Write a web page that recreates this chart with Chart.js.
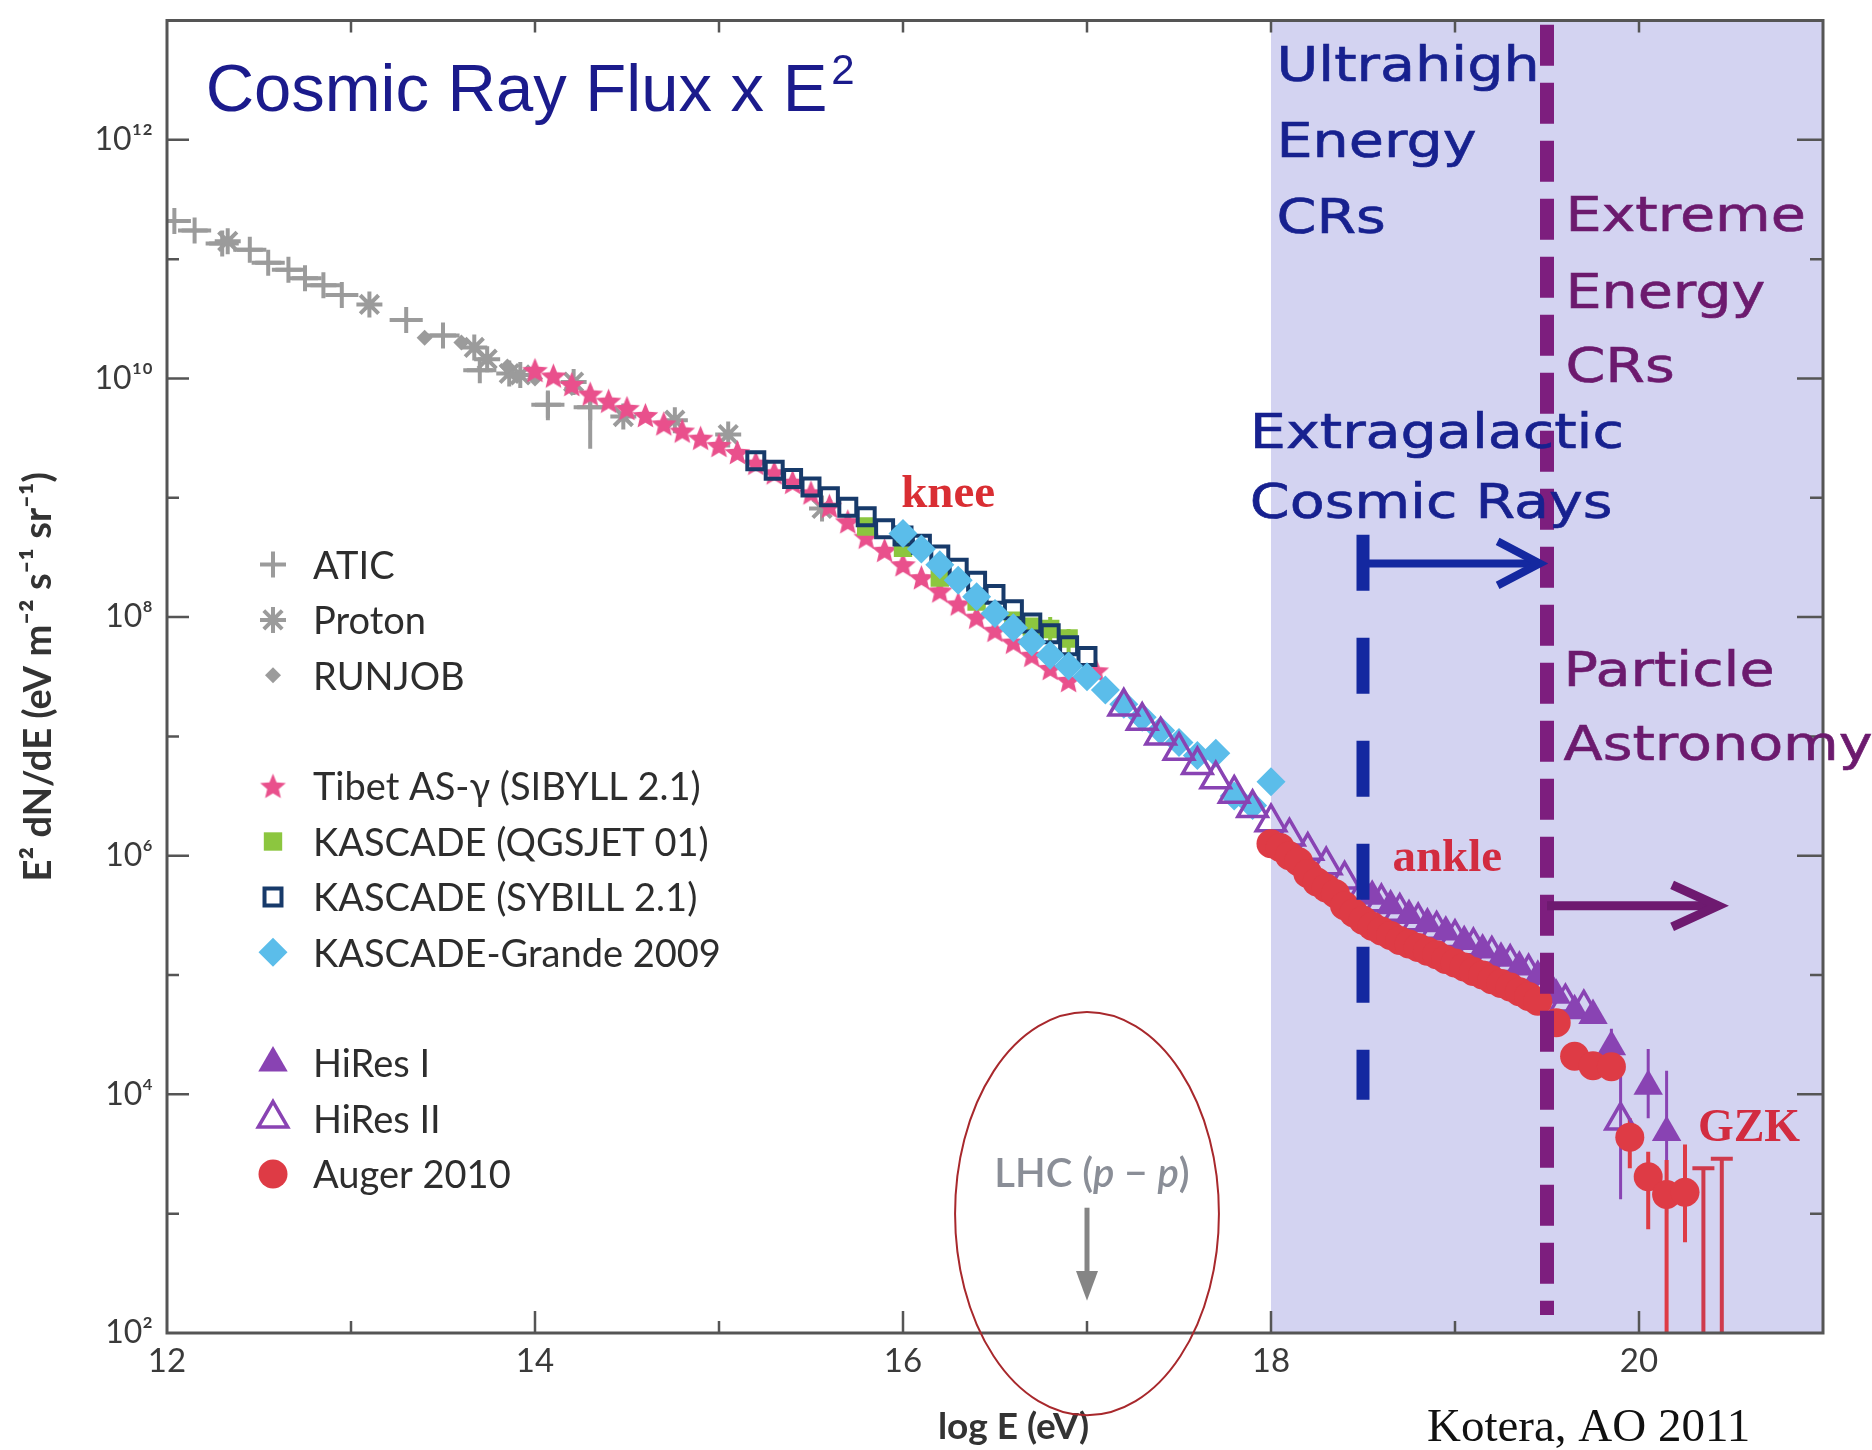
<!DOCTYPE html>
<html>
<head>
<meta charset="utf-8">
<title>Cosmic Ray Flux x E²</title>
<script src="https://cdn.jsdelivr.net/npm/chart.js@4.4.1/dist/chart.umd.min.js"></script>
<style>
  html, body { margin: 0; padding: 0; background: #ffffff; }
  canvas { display: block; }
</style>
</head>
<body>
<canvas id="cr" width="1872" height="1450" style="width:1872px;height:1450px"></canvas>
<script>
// Energies are log10(E / eV); fluxes are E^2 dN/dE in eV m^-2 s^-1 sr^-1.

const aticE      = [12.04, 12.15, 12.30, 12.45, 12.55, 12.66, 12.75, 12.85, 12.95, 13.30, 13.50, 13.70, 14.07, 14.30];
const aticFlux   = [2.09e11, 1.74e11, 1.35e11, 1.20e11, 9.33e10, 8.13e10, 6.92e10, 6.03e10, 5.01e10, 3.09e10, 2.29e10, 1.17e10, 6.03e9, 5.75e9];
const aticFluxLo = [null, null, null, null, null, null, null, null, null, null, null, null, 4.47e9, 2.57e9];
const aticFluxHi = [null, null, null, null, null, null, null, null, null, null, null, null, 7.94e9, 8.51e9];
const aticHalfBin = 0.09;

const protonE    = [12.33, 13.10, 13.67, 13.74, 13.86, 13.92, 14.21, 14.48, 14.76, 15.05, 15.56];
const protonFlux = [1.41e11, 4.17e10, 1.82e10, 1.45e10, 1.10e10, 1.07e10, 9.33e9, 4.79e9, 4.47e9, 3.39e9, 8.13e8];

const runjobE    = [13.40, 13.60, 13.85, 14.00, 14.20];
const runjobFlux = [2.19e10, 2.00e10, 1.26e10, 1.00e10, 8.32e9];

const tibetE    = [14.0, 14.1, 14.2, 14.3, 14.4, 14.5, 14.6, 14.7, 14.8, 14.9, 15.0, 15.1, 15.2, 15.3, 15.4, 15.5,
                   15.6, 15.7, 15.8, 15.9, 16.0, 16.1, 16.2, 16.3, 16.4, 16.5, 16.6, 16.7, 16.8, 16.9, 17.05];
const tibetFlux = [1.17e10, 1.05e10, 8.91e9, 7.41e9, 6.46e9, 5.62e9, 4.90e9, 4.17e9, 3.63e9, 3.16e9, 2.75e9, 2.40e9,
                   1.95e9, 1.62e9, 1.35e9, 1.10e9, 8.51e8, 6.31e8, 4.68e8, 3.63e8, 2.75e8, 2.14e8, 1.66e8, 1.29e8,
                   1.00e8, 7.76e7, 6.17e7, 4.79e7, 3.72e7, 2.95e7, 3.55e7];

const qgsjetE      = [15.8, 16.0, 16.2, 16.4, 16.6, 16.7, 16.8, 16.9];
const qgsjetFlux   = [5.75e8, 3.80e8, 2.14e8, 1.35e8, 9.33e7, 8.32e7, 7.94e7, 6.61e7];
const qgsjetFluxLo = [null, null, null, null, null, 6.92e7, 3.55e7, 3.98e7];
const qgsjetFluxHi = [null, null, null, null, null, 9.55e7, 1.00e8, 7.94e7];

const sybillE    = [15.2, 15.3, 15.4, 15.5, 15.6, 15.7, 15.8, 15.9, 16.0, 16.1, 16.2, 16.3, 16.4, 16.5, 16.6, 16.7, 16.8, 16.9, 17.0];
const sybillFlux = [2.04e9, 1.70e9, 1.45e9, 1.23e9, 1.02e9, 8.32e8, 6.92e8, 5.50e8, 4.79e8, 4.07e8, 3.31e8, 2.57e8,
                    2.00e8, 1.55e8, 1.15e8, 8.91e7, 7.24e7, 5.75e7, 4.68e7];

const grandeE    = [16.0, 16.1, 16.2, 16.3, 16.4, 16.5, 16.6, 16.7, 16.8, 16.9, 17.0, 17.1, 17.2, 17.3, 17.4, 17.5,
                    17.6, 17.7, 17.8, 17.9, 18.0];
const grandeFlux = [5.01e8, 3.72e8, 2.75e8, 2.04e8, 1.48e8, 1.07e8, 8.13e7, 6.17e7, 4.79e7, 3.89e7, 3.16e7, 2.45e7,
                    1.86e7, 1.45e7, 1.12e7, 8.91e6, 6.92e6, 7.24e6, 3.16e6, 2.63e6, 4.17e6];

const hires1E      = [18.55, 18.65, 18.75, 18.85, 18.95, 19.05, 19.15, 19.25, 19.35, 19.45, 19.55, 19.65, 19.75, 19.85, 20.05, 20.15];
const hires1Flux   = [4.57e5, 3.80e5, 3.16e5, 2.69e5, 2.29e5, 1.91e5, 1.62e5, 1.38e5, 1.17e5, 9.77e4, 6.76e4, 5.01e4,
                      4.57e4, 2.51e4, 1.17e4, 4.79e3];
const hires1FluxLo = [null, null, null, null, null, null, null, null, null, null, null, null, null, 1.78e4, 6.31e3, 1.00e3];
const hires1FluxHi = [null, null, null, null, null, null, null, null, null, null, null, null, null, 3.55e4, 2.40e4, 1.58e4];

const hires2E      = [17.2, 17.3, 17.4, 17.5, 17.6, 17.7, 17.8, 17.9, 18.0, 18.1, 18.2, 18.3, 18.4, 18.5, 18.6, 18.7,
                      18.8, 18.9, 19.0, 19.1, 19.2, 19.3, 19.4, 19.5, 19.6, 19.7, 19.9];
const hires2Flux   = [1.78e7, 1.35e7, 1.02e7, 7.59e6, 5.75e6, 4.37e6, 3.31e6, 2.51e6, 1.91e6, 1.45e6, 1.10e6, 8.32e5,
                      6.31e5, 4.90e5, 4.07e5, 3.39e5, 2.82e5, 2.40e5, 2.04e5, 1.74e5, 1.48e5, 1.26e5, 1.05e5, 8.32e4,
                      5.89e4, 5.25e4, 6.03e3];
const hires2FluxLo = [null, null, null, null, null, null, null, null, null, null, null, null, null, null, null, null,
                      null, null, null, null, null, null, null, null, null, null, 1.32e3];
const hires2FluxHi = [null, null, null, null, null, null, null, null, null, null, null, null, null, null, null, null,
                      null, null, null, null, null, null, null, null, null, null, 1.55e4];

const augerE      = [18.00, 18.05, 18.10, 18.15, 18.20, 18.25, 18.30, 18.35, 18.40, 18.45, 18.50, 18.55, 18.60, 18.65,
                     18.70, 18.75, 18.80, 18.85, 18.90, 18.95, 19.00, 19.05, 19.10, 19.15, 19.20, 19.25, 19.30, 19.35,
                     19.40, 19.45, 19.55, 19.65, 19.75, 19.85, 19.95, 20.05, 20.15, 20.25];
const augerFlux   = [1.26e6, 1.17e6, 1.00e6, 8.91e5, 7.08e5, 6.03e5, 5.37e5, 4.79e5, 3.80e5, 3.31e5, 2.88e5, 2.57e5,
                     2.34e5, 2.14e5, 1.95e5, 1.82e5, 1.70e5, 1.58e5, 1.48e5, 1.35e5, 1.26e5, 1.17e5, 1.07e5, 1.00e5,
                     9.12e4, 8.51e4, 7.94e4, 7.24e4, 6.61e4, 6.03e4, 3.98e4, 2.09e4, 1.74e4, 1.70e4, 4.37e3, 2.04e3,
                     1.45e3, 1.51e3];
const augerFluxLo = [null, null, null, null, null, null, null, null, null, null, null, null, null, null, null, null,
                     null, null, null, null, null, null, null, null, null, null, null, null, null, null, null, null,
                     null, null, 2.40e3, 7.41e2, 1.00e2, 5.75e2];
const augerFluxHi = [null, null, null, null, null, null, null, null, null, null, null, null, null, null, null, null,
                     null, null, null, null, null, null, null, null, null, null, null, null, null, null, null, null,
                     null, null, 6.31e3, 3.31e3, 2.82e3, 3.80e3];

// Auger bins with only an upper limit (bar from the limit down to the axis)
const augerLimitE    = [20.35, 20.45];
const augerLimitFlux = [2.40e3, 2.88e3];

// Axis ticks
const xLabelTicks = [12, 14, 16, 18, 20];
const xAllTicks   = [13, 14, 15, 16, 17, 18, 19, 20];
const yLabelExp   = [2, 4, 6, 8, 10, 12];
const yAllExp     = [3, 4, 5, 6, 7, 8, 9, 10, 11, 12];

// Regions and markers drawn over the spectrum (log E, log flux)
const uheRegionStart   = 18;
const extragalacticE   = 18.5;
const extremeE         = 19.5;
const extragalacticLog = [8.69, 3.955];
const extremeLog       = [12.965, 2.15];
const extragalacticArrow = { from: 18.5, to: 19.46, log: 8.45 };
const extremeArrow       = { from: 19.5, to: 20.43, log: 5.58 };
const lhcE = 17;

// ---------------------------------------------------------------
const GRAY   = '#9b9b9b';
const TIBET  = '#e9508c';
const QGS    = '#8cc63f';
const SYB    = '#173a6a';
const GRANDE = '#5bbdea';
const HIRES  = '#8943b3';
const AUGER  = '#de3b45';
const AXIS   = '#555555';
const NAVY   = '#17218f';
const PLUM   = '#6c1a6e';

function points(xs, ys, lo, hi, halfBin) {
  return xs.map((x, i) => ({
    x: x, y: ys[i],
    yMin: lo ? lo[i] : null,
    yMax: hi ? hi[i] : null,
    xMin: halfBin ? x - halfBin : null,
    xMax: halfBin ? x + halfBin : null
  }));
}

function starImage(r, color) {
  const c = document.createElement('canvas');
  const s = Math.ceil(2 * r + 2);
  c.width = s; c.height = s;
  const g = c.getContext('2d');
  g.fillStyle = color;
  g.beginPath();
  for (let i = 0; i < 10; i++) {
    const rr = i % 2 ? r * 0.45 : r;
    const a = -Math.PI / 2 + i * Math.PI / 5;
    g.lineTo(s / 2 + rr * Math.cos(a), s / 2 + rr * Math.sin(a) + r * 0.08);
  }
  g.closePath();
  g.fill();
  return c;
}
const tibetStar = starImage(13.5, TIBET);

const datasets = [
  { label: 'ATIC', data: points(aticE, aticFlux, aticFluxLo, aticFluxHi, aticHalfBin),
    pointStyle: 'cross', pointRadius: 13, pointBorderWidth: 4,
    pointBorderColor: GRAY, pointBackgroundColor: GRAY, errColor: GRAY, errWidth: 4, order: 10 },
  { label: 'Proton', data: points(protonE, protonFlux),
    pointStyle: 'star', pointRadius: 13, pointBorderWidth: 4,
    pointBorderColor: GRAY, pointBackgroundColor: GRAY, order: 9 },
  { label: 'RUNJOB', data: points(runjobE, runjobFlux),
    pointStyle: 'rectRot', pointRadius: 8, pointBorderWidth: 0,
    pointBorderColor: GRAY, pointBackgroundColor: GRAY, order: 8 },
  { label: 'Tibet AS-γ (SIBYLL 2.1)', data: points(tibetE, tibetFlux),
    pointStyle: tibetStar, pointRadius: 13, pointBorderWidth: 0,
    pointBorderColor: TIBET, pointBackgroundColor: TIBET, order: 7 },
  { label: 'KASCADE (QGSJET 01)', data: points(qgsjetE, qgsjetFlux, qgsjetFluxLo, qgsjetFluxHi),
    pointStyle: 'rect', pointRadius: 13, pointBorderWidth: 0,
    pointBorderColor: QGS, pointBackgroundColor: QGS, errColor: QGS, errWidth: 4, order: 6 },
  { label: 'KASCADE (SYBILL 2.1)', data: points(sybillE, sybillFlux),
    pointStyle: 'rect', pointRadius: 12, pointBorderWidth: 4,
    pointBorderColor: SYB, pointBackgroundColor: 'rgba(255,255,255,0)', order: 5 },
  { label: 'KASCADE-Grande 2009', data: points(grandeE, grandeFlux),
    pointStyle: 'rectRot', pointRadius: 14.5, pointBorderWidth: 0,
    pointBorderColor: GRANDE, pointBackgroundColor: GRANDE, order: 4 },
  { label: 'HiRes II', data: points(hires2E, hires2Flux, hires2FluxLo, hires2FluxHi),
    pointStyle: 'triangle', pointRadius: 17, pointBorderWidth: 3.5,
    pointBorderColor: HIRES, pointBackgroundColor: 'rgba(255,255,255,0)', errColor: HIRES, errWidth: 3, order: 3 },
  { label: 'HiRes I', data: points(hires1E, hires1Flux, hires1FluxLo, hires1FluxHi),
    pointStyle: 'triangle', pointRadius: 17, pointBorderWidth: 0,
    pointBorderColor: HIRES, pointBackgroundColor: HIRES, errColor: HIRES, errWidth: 3, order: 2 },
  { label: 'Auger 2010', data: points(augerE, augerFlux, augerFluxLo, augerFluxHi),
    pointStyle: 'circle', pointRadius: 14.5, pointBorderWidth: 0,
    pointBorderColor: AUGER, pointBackgroundColor: AUGER, errColor: AUGER, errWidth: 4, order: 1 },
  { label: 'Auger 2010 upper limits',
    data: augerLimitE.map((x, i) => ({ x: x, y: augerLimitFlux[i], yMin: 1e2, yMax: augerLimitFlux[i] })),
    pointRadius: 0, pointBorderWidth: 0, errColor: '#cf3a4c', errWidth: 4, errCap: 11, order: 1 }
];

// legend rows: dataset label and row slot (gaps separate the three groups)
const legendRows = [
  ['ATIC', 0], ['Proton', 1], ['RUNJOB', 2],
  ['Tibet AS-γ (SIBYLL 2.1)', 4], ['KASCADE (QGSJET 01)', 5], ['KASCADE (SYBILL 2.1)', 6], ['KASCADE-Grande 2009', 7],
  ['HiRes I', 9], ['HiRes II', 10], ['Auger 2010', 11]
];

const SUP = { '0': '⁰', '1': '¹', '2': '²', '3': '³', '4': '⁴', '5': '⁵', '6': '⁶', '7': '⁷', '8': '⁸', '9': '⁹', '-': '⁻' };
const sup = s => String(s).split('').map(ch => SUP[ch] || ch).join('');

// ---------------------------------------------------------------
const errorBars = {
  id: 'errorBars',
  beforeDatasetsDraw(chart) {
    const { ctx, chartArea: a, scales: { x, y } } = chart;
    ctx.save();
    ctx.beginPath();
    ctx.rect(a.left, a.top, a.right - a.left, a.bottom - a.top);
    ctx.clip();
    // high-energy region shading
    const x0 = x.getPixelForValue(uheRegionStart);
    ctx.fillStyle = '#d3d3f1';
    ctx.fillRect(x0, a.top, a.right - x0, a.bottom - a.top);

    chart.data.datasets.forEach(ds => {
      if (!ds.errColor) return;
      ctx.strokeStyle = ds.errColor;
      ctx.lineWidth = ds.errWidth || 3;
      ctx.lineCap = 'butt';
      ds.data.forEach(p => {
        const px = x.getPixelForValue(p.x);
        const py = y.getPixelForValue(p.y);
        if (p.yMin != null || p.yMax != null) {
          const t = y.getPixelForValue(p.yMax != null ? p.yMax : p.y);
          const b = y.getPixelForValue(p.yMin != null ? p.yMin : p.y);
          ctx.beginPath(); ctx.moveTo(px, t); ctx.lineTo(px, b); ctx.stroke();
          if (ds.errCap) {
            ctx.beginPath(); ctx.moveTo(px - ds.errCap, t); ctx.lineTo(px + ds.errCap, t); ctx.stroke();
          }
        }
        if (p.xMin != null) {
          const l = x.getPixelForValue(p.xMin), r = x.getPixelForValue(p.xMax);
          ctx.beginPath(); ctx.moveTo(l, py); ctx.lineTo(r, py); ctx.stroke();
        }
      });
    });
    ctx.restore();
  }
};

function drawLegendPoint(ctx, ds, cx, cy) {
  ctx.save();
  ctx.fillStyle = ds.pointBackgroundColor;
  ctx.strokeStyle = ds.pointBorderColor;
  ctx.lineWidth = ds.pointBorderWidth;
  const opts = { pointStyle: ds.pointStyle, rotation: 0, radius: ds.pointRadius, borderWidth: ds.pointBorderWidth };
  Chart.helpers.drawPoint(ctx, opts, cx, cy);
  ctx.restore();
}

function arrowHead(ctx, tipX, tipY, back, half) {
  ctx.beginPath();
  ctx.moveTo(tipX - back, tipY - half);
  ctx.lineTo(tipX, tipY);
  ctx.lineTo(tipX - back, tipY + half);
  ctx.stroke();
}

// rounded hand-lettered captions: widened sans with a light outline
function caption(ctx, text, px, py) {
  ctx.save();
  ctx.translate(px, py);
  ctx.scale(1.19, 1);
  ctx.lineWidth = 0.6;
  ctx.strokeStyle = ctx.fillStyle;
  ctx.fillText(text, 0, 0);
  ctx.strokeText(text, 0, 0);
  ctx.restore();
}

const overlay = {
  id: 'overlay',
  afterDatasetsDraw(chart) {
    const { ctx, chartArea: a, scales: { x, y } } = chart;
    const X = v => x.getPixelForValue(v);
    const Y = lg => y.getPixelForValue(Math.pow(10, lg));

    ctx.save();

    // frame and inward tick marks
    ctx.strokeStyle = AXIS;
    ctx.lineWidth = 3;
    ctx.strokeRect(a.left, a.top, a.right - a.left, a.bottom - a.top);
    ctx.lineWidth = 2.5;
    xAllTicks.forEach(v => {
      const px = X(v);
      const len = v % 2 === 0 ? 22 : 12;
      ctx.beginPath();
      ctx.moveTo(px, a.bottom); ctx.lineTo(px, a.bottom - len);
      ctx.moveTo(px, a.top); ctx.lineTo(px, a.top + 12);
      ctx.stroke();
    });
    yAllExp.forEach(e => {
      const py = Y(e);
      const major = e % 2 === 0;
      ctx.beginPath();
      ctx.moveTo(a.left, py); ctx.lineTo(a.left + (major ? 22 : 12), py);
      ctx.moveTo(a.right, py); ctx.lineTo(a.right - (major ? 26 : 13), py);
      ctx.stroke();
    });

    // extragalactic boundary (blue) and extreme-energy boundary (purple)
    ctx.lineCap = 'butt';
    ctx.strokeStyle = '#1428a0';
    ctx.lineWidth = 13;
    ctx.setLineDash([56, 47]);
    ctx.beginPath();
    ctx.moveTo(X(extragalacticE), Y(extragalacticLog[0]));
    ctx.lineTo(X(extragalacticE), Y(extragalacticLog[1]));
    ctx.stroke();

    ctx.strokeStyle = '#7d1e7e';
    ctx.lineWidth = 14;
    ctx.setLineDash([41, 17]);
    ctx.beginPath();
    ctx.moveTo(X(extremeE), Y(extremeLog[0]));
    ctx.lineTo(X(extremeE), Y(extremeLog[1]));
    ctx.stroke();
    ctx.setLineDash([]);

    // arrows
    ctx.lineJoin = 'miter';
    ctx.strokeStyle = '#1428a0';
    ctx.lineWidth = 8;
    let ay = Y(extragalacticArrow.log);
    ctx.beginPath(); ctx.moveTo(X(extragalacticArrow.from), ay); ctx.lineTo(X(extragalacticArrow.to) - 3, ay); ctx.stroke();
    arrowHead(ctx, X(extragalacticArrow.to), ay, 42, 22);

    ctx.strokeStyle = '#6e1a70';
    ctx.lineWidth = 9;
    ay = Y(extremeArrow.log);
    ctx.beginPath(); ctx.moveTo(X(extremeArrow.from), ay); ctx.lineTo(X(extremeArrow.to) - 3, ay); ctx.stroke();
    arrowHead(ctx, X(extremeArrow.to), ay, 46, 21);

    // region captions
    ctx.textBaseline = 'alphabetic';
    ctx.textAlign = 'left';
    ctx.font = '48px "DejaVu Sans"';
    ctx.fillStyle = NAVY;
    [['Ultrahigh', 18.03, 12.49], ['Energy', 18.03, 11.86], ['CRs', 18.03, 11.22],
     ['Extragalactic', 17.885, 9.42], ['Cosmic Rays', 17.885, 8.83]].forEach(([t, vx, lg]) => caption(ctx, t, X(vx), Y(lg)));
    ctx.fillStyle = PLUM;
    [['Extreme', 19.60, 11.24], ['Energy', 19.60, 10.59], ['CRs', 19.60, 9.97],
     ['Particle', 19.59, 7.42], ['Astronomy', 19.59, 6.80]].forEach(([t, vx, lg]) => caption(ctx, t, X(vx), Y(lg)));

    // feature labels
    ctx.font = 'bold 47px "Liberation Serif"';
    ctx.fillStyle = '#d92e33';
    ctx.fillText('knee', X(15.99), Y(8.92));
    ctx.fillStyle = '#d22c40';
    ctx.fillText('ankle', X(18.66), Y(5.87));
    ctx.font = 'bold 46px "Liberation Serif"';
    ctx.fillText('GZK', X(20.32), Y(3.61));

    // heading
    ctx.fillStyle = '#1b1b8c';
    ctx.font = '67px "Liberation Sans"';
    const hx = X(12.21), hy = Y(12.24);
    const head = 'Cosmic Ray Flux x E';
    ctx.fillText(head, hx, hy);
    const headW = ctx.measureText(head).width;
    ctx.font = '42px "Liberation Sans"';
    ctx.fillText('2', hx + headW + 4, hy - 27);

    // LHC marker
    ctx.fillStyle = '#8a8e97';
    ctx.strokeStyle = '#858585';
    const parts = [['LHC (', '600 40px Lato'], ['p', 'italic 600 40px Lato'], [' − ', '600 40px Lato'],
                   ['p', 'italic 600 40px Lato'], [')', '600 40px Lato']];
    let tw = 0;
    parts.forEach(([t, f]) => { ctx.font = f; tw += ctx.measureText(t).width; });
    let tx = X(lhcE) - tw / 2 + 5;
    const ty = Y(3.22);
    parts.forEach(([t, f]) => { ctx.font = f; ctx.fillText(t, tx, ty); tx += ctx.measureText(t).width; });
    const lx = X(lhcE);
    ctx.lineWidth = 5;
    ctx.beginPath(); ctx.moveTo(lx, Y(3.05)); ctx.lineTo(lx, Y(2.45)); ctx.stroke();
    ctx.fillStyle = '#858585';
    ctx.beginPath(); ctx.moveTo(lx - 11, Y(2.52)); ctx.lineTo(lx + 11, Y(2.52)); ctx.lineTo(lx, Y(2.27)); ctx.closePath(); ctx.fill();

    // circle around the LHC energy
    ctx.strokeStyle = '#a8282c';
    ctx.lineWidth = 2;
    const ex = X(lhcE), eyc = Y(3.0);
    const rx = X(lhcE + 0.717) - ex, ry = eyc - Y(4.69);
    ctx.beginPath(); ctx.ellipse(ex, eyc, rx, ry, 0, 0, Math.PI * 2); ctx.stroke();

    // legend
    const ds = chart.data.datasets;
    ctx.font = '38px Lato';
    ctx.textBaseline = 'middle';
    legendRows.forEach(([label, slot]) => {
      const d = ds.find(s => s.label === label);
      const cy = a.top + 544 + slot * 55.4;
      drawLegendPoint(ctx, d, a.left + 106, cy);
      ctx.fillStyle = '#2d2d2d';
      ctx.fillText(label, a.left + 146, cy + 2);
    });

    // reference
    ctx.textBaseline = 'alphabetic';
    ctx.fillStyle = '#111111';
    ctx.font = '47px "Liberation Serif"';
    ctx.fillText('Kotera, AO 2011', 1427, 1441);

    ctx.restore();
  }
};

new Chart(document.getElementById('cr'), {
  type: 'scatter',
  data: { datasets: datasets },
  options: {
    responsive: false,
    animation: false,
    events: [],
    devicePixelRatio: 1,
    layout: { padding: { left: 0, right: 49, top: 12, bottom: 0 } },
    plugins: { legend: { display: false }, tooltip: { enabled: false } },
    scales: {
      x: {
        type: 'linear', min: 12, max: 21,
        grid: { display: false, drawTicks: false },
        border: { display: false },
        afterBuildTicks: s => { s.ticks = xLabelTicks.map(v => ({ value: v })); },
        afterFit: s => { s.height = 117; s.paddingLeft = 0; s.paddingRight = 0; },
        ticks: { autoSkip: false, maxRotation: 0, padding: 9, color: '#3a3a3a',
                 font: { family: 'Lato, "Noto Sans"', size: 33 }, callback: v => String(v) },
        title: { display: true, text: '\u2002\u2002log E (eV)', color: '#333333', padding: { top: 0, bottom: 1 },
                 font: { family: 'Lato, "Noto Sans"', size: 37, weight: 'bold' } }
      },
      y: {
        type: 'logarithmic', min: 1e2, max: 1e13,
        grid: { display: false, drawTicks: false },
        border: { display: false },
        afterBuildTicks: s => { s.ticks = yLabelExp.map(e => ({ value: Math.pow(10, e) })); },
        afterFit: s => { s.width = 167; s.paddingTop = 0; s.paddingBottom = 0; },
        ticks: { autoSkip: false, padding: 14, color: '#3a3a3a',
                 font: { family: 'Lato, "Noto Sans"', size: 32 },
                 callback: v => '10' + sup(Math.round(Math.log10(v))) },
        title: { display: true, text: 'E² dN/dE (eV m⁻² s⁻¹ sr⁻¹)', color: '#333333', padding: { top: 16, bottom: 0 },
                 font: { family: 'Lato, "Noto Sans"', size: 38, weight: 'bold' } }
      }
    }
  },
  plugins: [errorBars, overlay]
});
</script>
</body>
</html>
